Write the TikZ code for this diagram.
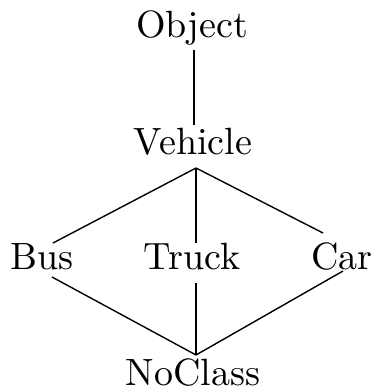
\documentclass[tikz,border=0pt]{standalone}
\usetikzlibrary{calc}
\begin{document}
\begin{tikzpicture}[
  lbl/.style={anchor=base, inner sep=0pt, scale=3.8},
  edge/.style={line width=1.4pt}
]
\useasboundingbox (0pt,0pt) rectangle (373pt,-389pt);
\node[lbl] (object)  at (192pt,-37pt)  {Object};
\node[lbl] (vehicle) at (193pt,-154pt) {Vehicle};
\node[lbl] (bus)     at (42pt,-269pt)  {Bus};
\node[lbl] (truck)   at (192pt,-269pt) {Truck};
\node[lbl] (car)     at (342pt,-269pt) {Car};
\node[lbl] (noclass) at (193pt,-385pt) {NoClass};
% connector end points
\coordinate (ob) at ($(object.base)+(2pt,-13pt)$);
\coordinate (vt) at ($(vehicle.base)+(1pt,29pt)$);
\coordinate (va) at ($(vehicle.base)+(3pt,-14pt)$);
\coordinate (bt) at ($(bus.base)+(11pt,26pt)$);
\coordinate (bb) at ($(bus.base)+(10pt,-8pt)$);
\coordinate (tt) at ($(truck.base)+(4pt,26pt)$);
\coordinate (tb) at ($(truck.base)+(4pt,-14pt)$);
\coordinate (ct) at ($(car.base)+(-19pt,36pt)$);
\coordinate (cb) at ($(car.base)+(1pt,-2pt)$);
\coordinate (na) at ($(noclass.base)+(3pt,30pt)$);
\draw[edge] (ob) -- (vt);
\draw[edge] (va) -- (bt);
\draw[edge] (va) -- (tt);
\draw[edge] (va) -- (ct);
\draw[edge] (bb) -- (na);
\draw[edge] (tb) -- (na);
\draw[edge] (cb) -- (na);
\end{tikzpicture}
\end{document}
